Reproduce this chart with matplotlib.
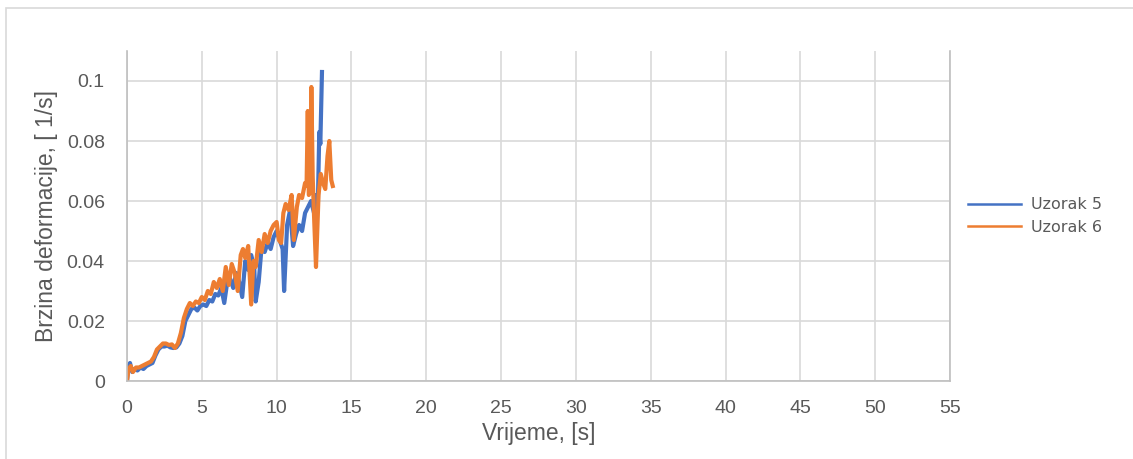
import matplotlib
matplotlib.use("Agg")
import matplotlib.pyplot as plt
from matplotlib.patches import Rectangle

# Uzorak 5
t5 = [0, 0.1, 0.2, 0.35, 0.5, 0.7, 0.9, 1.1, 1.3, 1.5,
      1.7, 1.9, 2.1, 2.3, 2.5, 2.7, 2.9, 3.1, 3.3, 3.5,
      3.7, 3.9, 4.1, 4.3, 4.5, 4.7, 4.9, 5.1, 5.3, 5.5,
      5.7, 5.9, 6.1, 6.3, 6.5, 6.7, 6.9, 7.1, 7.3, 7.5,
      7.7, 7.9, 8.1, 8.3, 8.5, 8.6, 8.8, 9.0, 9.2, 9.4,
      9.6, 9.8, 10.0, 10.2, 10.4, 10.5, 10.7, 10.9, 11.1, 11.3,
      11.5, 11.7, 11.9, 12.1, 12.3, 12.5, 12.6, 12.75, 12.85, 12.92,
      13.03]
v5 = [0, 0.005, 0.006, 0.003, 0.004, 0.0035, 0.0045, 0.004, 0.005, 0.0055,
      0.006, 0.0085, 0.0105, 0.0115, 0.0115, 0.0118, 0.0112, 0.011, 0.0112, 0.0125,
      0.015, 0.02, 0.022, 0.024, 0.0245, 0.0235, 0.025, 0.0255, 0.025, 0.027,
      0.0265, 0.029, 0.0285, 0.031, 0.026, 0.033, 0.034, 0.031, 0.036, 0.033,
      0.028, 0.04, 0.037, 0.042, 0.038, 0.0265, 0.033, 0.045, 0.043, 0.046,
      0.044, 0.048, 0.05, 0.047, 0.044, 0.030, 0.052, 0.057, 0.045, 0.049,
      0.052, 0.05, 0.056, 0.058, 0.06, 0.056, 0.062, 0.058, 0.083, 0.079,
      0.103]

# Uzorak 6
t6 = [0, 0.1, 0.25, 0.4, 0.6, 0.8, 1.0, 1.2, 1.4, 1.6,
      1.8, 2.0, 2.2, 2.4, 2.6, 2.8, 3.0, 3.2, 3.4, 3.6,
      3.8, 4.0, 4.2, 4.4, 4.6, 4.8, 5.0, 5.2, 5.4, 5.6,
      5.8, 6.0, 6.2, 6.4, 6.6, 6.8, 7.0, 7.2, 7.4, 7.6,
      7.75, 7.9, 8.1, 8.3, 8.45, 8.6, 8.8, 9.0, 9.2, 9.4,
      9.6, 9.8, 10.0, 10.15, 10.3, 10.45, 10.6, 10.8, 11.0, 11.15,
      11.35, 11.5, 11.7, 11.9, 12.0, 12.08, 12.15, 12.25, 12.32, 12.41,
      12.5, 12.63, 12.8, 12.95, 13.1, 13.25, 13.4, 13.52, 13.65, 13.75]
v6 = [0, 0.004, 0.005, 0.003, 0.0045, 0.0045, 0.005, 0.0055, 0.006, 0.0065,
      0.008, 0.0105, 0.0115, 0.0125, 0.0125, 0.012, 0.0122, 0.011, 0.0125, 0.016,
      0.021, 0.024, 0.026, 0.025, 0.0265, 0.026, 0.028, 0.027, 0.030, 0.029,
      0.033, 0.031, 0.034, 0.030, 0.038, 0.032, 0.039, 0.036, 0.03, 0.042,
      0.044, 0.041, 0.045, 0.0255, 0.04, 0.038, 0.047, 0.043, 0.049, 0.046,
      0.050, 0.052, 0.053, 0.047, 0.046, 0.056, 0.059, 0.057, 0.062, 0.047,
      0.058, 0.062, 0.061, 0.066, 0.065, 0.09, 0.062, 0.063, 0.098, 0.068,
      0.055, 0.038, 0.062, 0.069, 0.066, 0.064, 0.075, 0.08, 0.067, 0.065]

xticks = list(range(0, 60, 5))
yticks = [0, 0.02, 0.04, 0.06, 0.08, 0.1]
ytick_labels = ["0", "0.02", "0.04", "0.06", "0.08", "0.1"]

plt.rcParams['font.family'] = ['Liberation Sans', 'DejaVu Sans']

fig = plt.figure(figsize=(11.33, 4.59), dpi=100)
# chart border
fig.patches.append(Rectangle((6 / 1133, -0.1), 1.1, (459 - 8) / 459 + 0.1,
                             transform=fig.transFigure, fill=False,
                             edgecolor='#d9d9d9', lw=1.2))

ax = fig.add_axes([127 / 1133, 78 / 459, 823 / 1133, 330 / 459])
ax.plot(t5, v5, color='#4472C4', lw=3, label='Uzorak 5', solid_joinstyle='round')
ax.plot(t6, v6, color='#ED7D31', lw=3, label='Uzorak 6', solid_joinstyle='round')

ax.set_xlim(0, 55)
ax.set_ylim(0, 0.11)
ax.set_xticks(xticks)
ax.set_yticks(yticks)
ax.set_yticklabels(ytick_labels)
ax.grid(True, color='#d9d9d9', lw=1.2)
ax.set_axisbelow(True)
ax.tick_params(length=0, labelsize=14, colors='#595959')
ax.tick_params(axis='x', pad=14)
ax.tick_params(axis='y', pad=16)
ax.spines['top'].set_visible(False)
for s in ['left', 'bottom', 'right']:
    ax.spines[s].set_color('#bfbfbf')
    ax.spines[s].set_linewidth(1.2)

ax.set_xlabel('Vrijeme, [s]', fontsize=16.5, color='#595959', labelpad=3)
ax.set_ylabel('Brzina deformacije, [ 1/s]', fontsize=16.5, color='#595959', labelpad=6)

leg = ax.legend(loc='center left', bbox_to_anchor=(1.005, 0.5), frameon=False,
                prop={'family': 'DejaVu Sans', 'size': 11.5},
                handlelength=3.3, handletextpad=0.6, labelspacing=0.45)
for line in leg.get_lines():
    line.set_linewidth(1.8)
for txt in leg.get_texts():
    txt.set_color('#595959')

fig.savefig('out.png', dpi=100)
